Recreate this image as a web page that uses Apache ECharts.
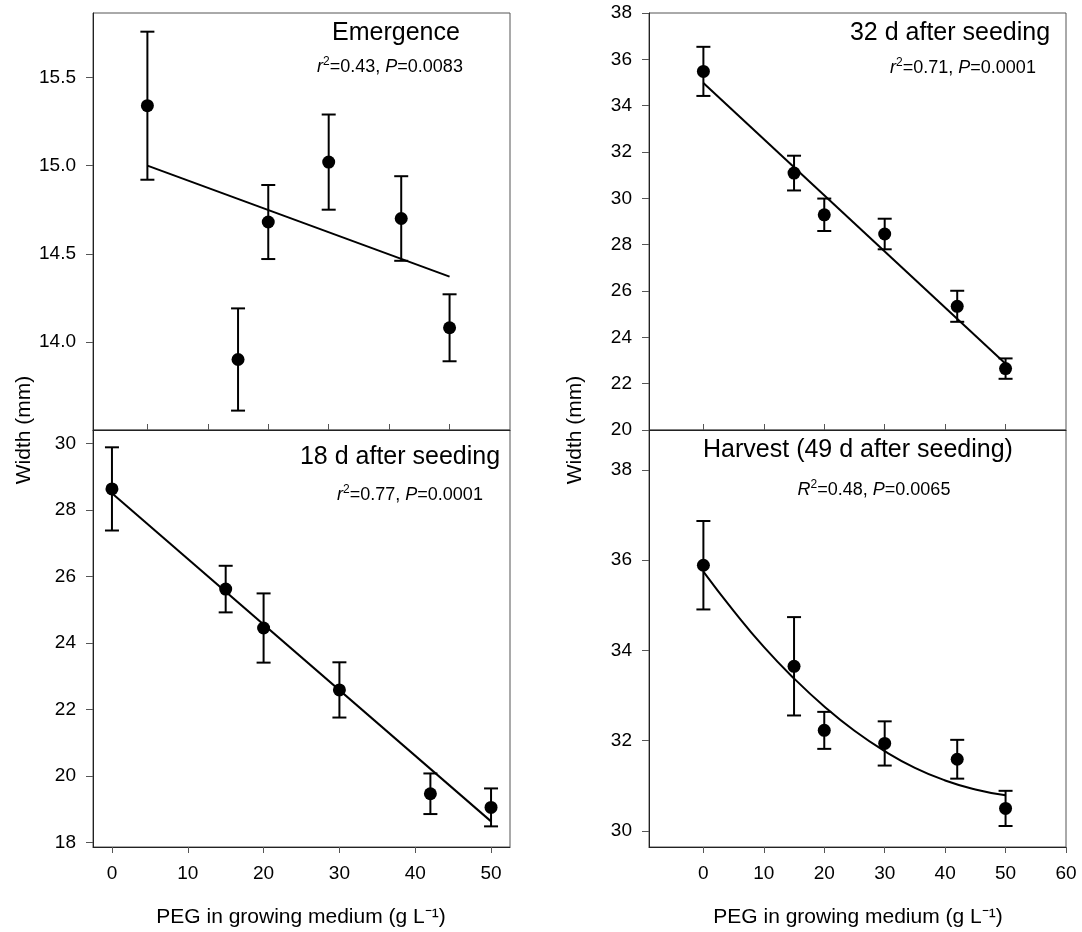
<!DOCTYPE html>
<html>
<head>
<meta charset="utf-8">
<script src="https://cdn.jsdelivr.net/npm/echarts@6/dist/echarts.min.js"></script>
<style>
html,body{margin:0;padding:0;background:#fff;}
#chart{width:1082px;height:932px;}
</style>
</head>
<body>
<div id="chart"></div>
<script>
// ---- data ----
const peg = [0, 15, 20, 30, 42, 50];

const emergenceWidth = [15.34, 13.90, 14.68, 15.02, 14.70, 14.08];
const emergenceErr   = [0.42, 0.29, 0.21, 0.27, 0.24, 0.19];
const emergenceFitX  = [0, 50];
const emergenceFitY  = [15.00, 14.37];

const d18Width = [28.63, 25.62, 24.45, 22.59, 19.47, 19.06];
const d18Err   = [1.25, 0.70, 1.04, 0.83, 0.61, 0.57];
const d18FitX  = [0, 50];
const d18FitY  = [28.50, 18.64];

const d32Width = [35.48, 31.09, 29.29, 28.46, 25.34, 22.65];
const d32Err   = [1.06, 0.75, 0.70, 0.66, 0.67, 0.44];
const d32FitX  = [0, 50];
const d32FitY  = [34.98, 22.86];

const harvestWidth = [35.89, 33.65, 32.23, 31.94, 31.59, 30.50];
const harvestErr   = [0.98, 1.09, 0.41, 0.49, 0.43, 0.39];
const harvestFitX  = [0, 5, 10, 15, 20, 25, 30, 35, 40, 45, 50];
const harvestFitY  = [35.75, 34.88, 34.08, 33.38, 32.76, 32.22, 31.77, 31.40, 31.12, 30.92, 30.79];

const xTicksShort = [0, 10, 20, 30, 40, 50];
const xTicksLong  = [0, 10, 20, 30, 40, 50, 60];
const yTicksEmergence = [14.0, 14.5, 15.0, 15.5];
const yTicks18 = [18, 20, 22, 24, 26, 28, 30];
const yTicksHarvest = [30, 32, 34, 36, 38];

const panelTitles = ['Emergence', '18 d after seeding', '32 d after seeding', 'Harvest (49 d after seeding)'];
const panelStats = [
  ['r', '=0.43, ', 'P', '=0.0083'],
  ['r', '=0.77, ', 'P', '=0.0001'],
  ['r', '=0.71, ', 'P', '=0.0001'],
  ['R', '=0.48, ', 'P', '=0.0065']
];
const yTitle = 'Width (mm)';
const xTitle = 'PEG in growing medium (g L⁻¹)';

// ---- chart ----
const FONT = '"Liberation Sans", Arial, sans-serif';
const zip = (xs, ys) => xs.map((x, i) => [x, ys[i]]);
const zip3 = (xs, ys, es) => xs.map((x, i) => [x, ys[i], es[i]]);

function errRender(params, api) {
  const x = api.value(0), y = api.value(1), e = api.value(2);
  const top = api.coord([x, y + e]);
  const bot = api.coord([x, y - e]);
  const hw = 7;
  const style = { stroke: '#000', lineWidth: 2 };
  return {
    type: 'group',
    children: [
      { type: 'line', shape: { x1: top[0], y1: top[1], x2: bot[0], y2: bot[1] }, style },
      { type: 'line', shape: { x1: top[0] - hw, y1: top[1], x2: top[0] + hw, y2: top[1] }, style },
      { type: 'line', shape: { x1: bot[0] - hw, y1: bot[1], x2: bot[0] + hw, y2: bot[1] }, style }
    ]
  };
}

const grids = [
  { left: 93, top: 13, width: 417, height: 417 },
  { left: 93, top: 430, width: 417, height: 417 },
  { left: 649, top: 13, width: 417, height: 417 },
  { left: 649, top: 430, width: 417, height: 417 }
].map(g => Object.assign({ show: true, borderColor: '#555', borderWidth: 1, containLabel: false }, g));

const axisLineStyle = { show: true, onZero: false, lineStyle: { color: '#222', width: 1 } };
const labelStyle = { color: '#000', fontSize: 19, fontFamily: FONT };

function xAxisCfg(gi, min, max, ticks, showLabels) {
  return {
    type: 'value', gridIndex: gi, min, max,
    axisLine: axisLineStyle,
    splitLine: { show: false },
    axisTick: { show: true, inside: !showLabels, length: 6, customValues: ticks, lineStyle: { color: '#555' } },
    axisLabel: Object.assign({ show: showLabels, margin: 17, customValues: ticks }, labelStyle)
  };
}
function yAxisCfg(gi, min, max, ticks, fmt) {
  const cfg = {
    type: 'value', gridIndex: gi, min, max,
    axisLine: axisLineStyle,
    splitLine: { show: false },
    axisTick: { show: true, inside: false, length: 7, lineStyle: { color: '#555' } },
    axisLabel: Object.assign({ show: true, margin: 17, formatter: fmt }, labelStyle)
  };
  if (ticks) {
    cfg.axisTick.customValues = ticks;
    cfg.axisLabel.customValues = ticks;
  } else {
    cfg.interval = 2;
  }
  return cfg;
}

const xAxes = [
  xAxisCfg(0, -9, 60, xTicksShort, false),
  xAxisCfg(1, -2.5, 52.5, xTicksShort, true),
  xAxisCfg(2, -9, 60, xTicksShort, false),
  xAxisCfg(3, -9, 60, xTicksLong, true)
];
const yAxes = [
  yAxisCfg(0, 13.5, 15.866, yTicksEmergence, v => v.toFixed(1)),
  yAxisCfg(1, 17.87, 30.4, yTicks18, v => String(v)),
  yAxisCfg(2, 20, 38, null, v => String(v)),
  yAxisCfg(3, 29.645, 38.887, yTicksHarvest, v => String(v))
];

const panels = [
  { w: emergenceWidth, e: emergenceErr, fx: emergenceFitX, fy: emergenceFitY, smooth: false },
  { w: d18Width, e: d18Err, fx: d18FitX, fy: d18FitY, smooth: false },
  { w: d32Width, e: d32Err, fx: d32FitX, fy: d32FitY, smooth: false },
  { w: harvestWidth, e: harvestErr, fx: harvestFitX, fy: harvestFitY, smooth: true }
];

const series = [];
panels.forEach((p, i) => {
  series.push({
    type: 'line', xAxisIndex: i, yAxisIndex: i, data: zip(p.fx, p.fy),
    showSymbol: false, smooth: p.smooth, lineStyle: { color: '#000', width: 2 }, z: 2, silent: true
  });
  series.push({
    type: 'custom', xAxisIndex: i, yAxisIndex: i, data: zip3(peg, p.w, p.e),
    renderItem: errRender, z: 3, silent: true
  });
  series.push({
    type: 'scatter', xAxisIndex: i, yAxisIndex: i, data: zip(peg, p.w),
    symbol: 'circle', symbolSize: 13, itemStyle: { color: '#000', opacity: 1 }, z: 4, silent: true
  });
});

// text layout
const titlePos = [[396, 33], [400, 457], [950, 33], [858, 450]];
const statPos  = [[390, 67], [410, 495], [963, 68], [874, 490]];

const graphics = [];
panelTitles.forEach((t, i) => {
  graphics.push({
    type: 'text', x: titlePos[i][0], y: titlePos[i][1], z: 10,
    style: { text: t, fill: '#000', fontSize: 25, fontFamily: FONT, align: 'center', verticalAlign: 'middle' }
  });
});
panelStats.forEach((s, i) => {
  const txt = '{i|' + s[0] + '}{sup|2}{n|' + s[1] + '}{i|' + s[2] + '}{n|' + s[3] + '}';
  graphics.push({
    type: 'text', x: statPos[i][0], y: statPos[i][1], z: 10,
    style: {
      text: txt, fill: '#000', fontSize: 18, fontFamily: FONT, align: 'center', verticalAlign: 'middle',
      rich: {
        i: { fontStyle: 'italic', fontSize: 18, fontFamily: FONT, fill: '#000', lineHeight: 22 },
        n: { fontSize: 18, fontFamily: FONT, fill: '#000', lineHeight: 22 },
        sup: { fontSize: 12, fontFamily: FONT, fill: '#000', verticalAlign: 'top', lineHeight: 22, padding: [0, 0, 10, 0] }
      }
    }
  });
});
[[24, 430], [575, 430]].forEach(p => {
  graphics.push({
    type: 'text', x: p[0], y: p[1], rotation: Math.PI / 2, z: 10,
    style: { text: yTitle, fill: '#000', fontSize: 21, fontFamily: FONT, align: 'center', verticalAlign: 'middle' }
  });
});
[[301, 917], [858, 917]].forEach(p => {
  graphics.push({
    type: 'text', x: p[0], y: p[1], z: 10,
    style: { text: xTitle, fill: '#000', fontSize: 21, fontFamily: FONT, align: 'center', verticalAlign: 'middle' }
  });
});

const chart = echarts.init(document.getElementById('chart'), null, { renderer: 'canvas' });
chart.setOption({
  backgroundColor: '#fff',
  animation: false,
  grid: grids,
  xAxis: xAxes,
  yAxis: yAxes,
  series: series,
  graphic: graphics
});
</script>
</body>
</html>
